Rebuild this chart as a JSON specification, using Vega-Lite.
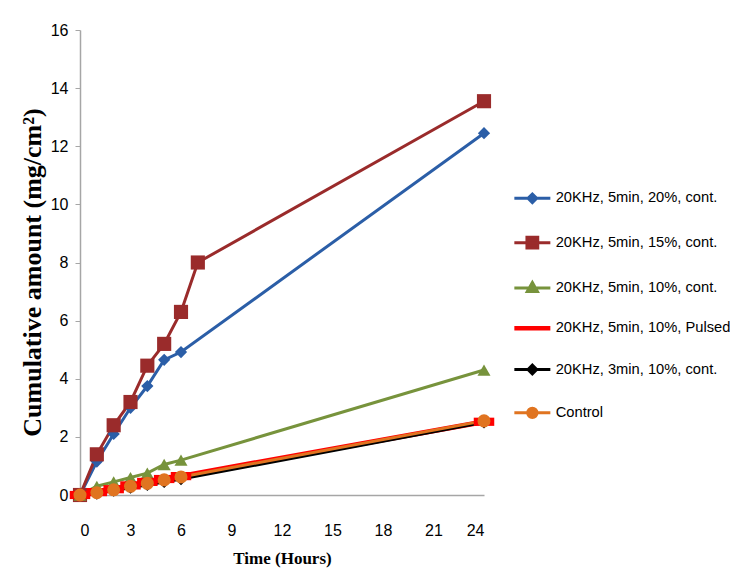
{
  "$schema": "https://vega.github.io/schema/vega-lite/v6.json",
  "autosize": "none",
  "width": 404,
  "height": 465,
  "padding": {"left": 80, "top": 30, "right": 246, "bottom": 82},
  "background": "white",
  "config": {"view": {"stroke": null}},
  "data": {"values": [
    {"series": "20KHz, 5min, 20%, cont.", "t": 0, "v": 0},
    {"series": "20KHz, 5min, 20%, cont.", "t": 1, "v": 1.15},
    {"series": "20KHz, 5min, 20%, cont.", "t": 2, "v": 2.1},
    {"series": "20KHz, 5min, 20%, cont.", "t": 3, "v": 3.0},
    {"series": "20KHz, 5min, 20%, cont.", "t": 4, "v": 3.75},
    {"series": "20KHz, 5min, 20%, cont.", "t": 5, "v": 4.65},
    {"series": "20KHz, 5min, 20%, cont.", "t": 6, "v": 4.92},
    {"series": "20KHz, 5min, 20%, cont.", "t": 24, "v": 12.45},
    {"series": "20KHz, 5min, 15%, cont.", "t": 0, "v": 0},
    {"series": "20KHz, 5min, 15%, cont.", "t": 1, "v": 1.4},
    {"series": "20KHz, 5min, 15%, cont.", "t": 2, "v": 2.4},
    {"series": "20KHz, 5min, 15%, cont.", "t": 3, "v": 3.2},
    {"series": "20KHz, 5min, 15%, cont.", "t": 4, "v": 4.45},
    {"series": "20KHz, 5min, 15%, cont.", "t": 5, "v": 5.2},
    {"series": "20KHz, 5min, 15%, cont.", "t": 6, "v": 6.3},
    {"series": "20KHz, 5min, 15%, cont.", "t": 7, "v": 8.0},
    {"series": "20KHz, 5min, 15%, cont.", "t": 24, "v": 13.55},
    {"series": "20KHz, 5min, 10%, cont.", "t": 0, "v": 0},
    {"series": "20KHz, 5min, 10%, cont.", "t": 1, "v": 0.3},
    {"series": "20KHz, 5min, 10%, cont.", "t": 2, "v": 0.45},
    {"series": "20KHz, 5min, 10%, cont.", "t": 3, "v": 0.6},
    {"series": "20KHz, 5min, 10%, cont.", "t": 4, "v": 0.75},
    {"series": "20KHz, 5min, 10%, cont.", "t": 5, "v": 1.05},
    {"series": "20KHz, 5min, 10%, cont.", "t": 6, "v": 1.2},
    {"series": "20KHz, 5min, 10%, cont.", "t": 24, "v": 4.3},
    {"series": "20KHz, 5min, 10%, Pulsed", "t": 0, "v": 0},
    {"series": "20KHz, 5min, 10%, Pulsed", "t": 1, "v": 0.1},
    {"series": "20KHz, 5min, 10%, Pulsed", "t": 2, "v": 0.2},
    {"series": "20KHz, 5min, 10%, Pulsed", "t": 3, "v": 0.33},
    {"series": "20KHz, 5min, 10%, Pulsed", "t": 4, "v": 0.45},
    {"series": "20KHz, 5min, 10%, Pulsed", "t": 5, "v": 0.55},
    {"series": "20KHz, 5min, 10%, Pulsed", "t": 6, "v": 0.65},
    {"series": "20KHz, 5min, 10%, Pulsed", "t": 24, "v": 2.52},
    {"series": "20KHz, 3min, 10%, cont.", "t": 0, "v": 0},
    {"series": "20KHz, 3min, 10%, cont.", "t": 1, "v": 0.05},
    {"series": "20KHz, 3min, 10%, cont.", "t": 2, "v": 0.15},
    {"series": "20KHz, 3min, 10%, cont.", "t": 3, "v": 0.25},
    {"series": "20KHz, 3min, 10%, cont.", "t": 4, "v": 0.35},
    {"series": "20KHz, 3min, 10%, cont.", "t": 5, "v": 0.45},
    {"series": "20KHz, 3min, 10%, cont.", "t": 6, "v": 0.55},
    {"series": "20KHz, 3min, 10%, cont.", "t": 24, "v": 2.5},
    {"series": "Control", "t": 0, "v": 0},
    {"series": "Control", "t": 1, "v": 0.08},
    {"series": "Control", "t": 2, "v": 0.18},
    {"series": "Control", "t": 3, "v": 0.3},
    {"series": "Control", "t": 4, "v": 0.4},
    {"series": "Control", "t": 5, "v": 0.52},
    {"series": "Control", "t": 6, "v": 0.62},
    {"series": "Control", "t": 24, "v": 2.55}
  ]},
  "encoding": {
    "x": {
      "field": "t", "type": "quantitative",
      "scale": {"domain": [0, 24], "nice": false},
      "axis": {
        "title": "Time (Hours)", "values": [0, 3, 6, 9, 12, 15, 18, 21, 24],
        "grid": false, "ticks": false, "domainColor": "#A6A6A6", "domainWidth": 1.5,
        "labelFont": "Liberation Sans", "labelFontSize": 16, "labelColor": "#000000", "labelPadding": 27,
        "titleFont": "Liberation Serif", "titleFontSize": 17, "titleFontWeight": "bold", "titleColor": "#000000", "titlePadding": 12
      }
    },
    "y": {
      "field": "v", "type": "quantitative",
      "scale": {"domain": [0, 16], "nice": false},
      "axis": {
        "title": "Cumulative amount (mg/cm²)", "values": [0, 2, 4, 6, 8, 10, 12, 14, 16],
        "grid": false, "tickSize": 5, "tickColor": "#A6A6A6", "domainColor": "#A6A6A6", "domainWidth": 1.5,
        "labelFont": "Liberation Sans", "labelFontSize": 16, "labelColor": "#000000", "labelPadding": 7,
        "titleFont": "Liberation Serif", "titleFontSize": 26, "titleFontWeight": "bold", "titleColor": "#000000",
        "titleX": -48, "titleY": 242, "titleBaseline": "middle", "titleAngle": -90
      }
    }
  },
  "layer": [
    {
      "mark": {"type": "line"},
      "encoding": {
        "stroke": {
          "field": "series", "type": "nominal",
          "sort": ["20KHz, 5min, 20%, cont.", "20KHz, 5min, 15%, cont.", "20KHz, 5min, 10%, cont.", "20KHz, 5min, 10%, Pulsed", "20KHz, 3min, 10%, cont.", "Control"],
          "scale": {
            "range": ["#2B5EA7", "#9A2B2B", "#77933C", "#FF0000", "#000000", "#E07420"]
          },
          "legend": {
            "title": null, "orient": "none", "legendX": 445, "legendY": 161,
            "symbolType": "stroke", "symbolSize": 1296, "symbolStrokeWidth": 3,
            "labelFont": "Liberation Sans", "labelFontSize": 14.7, "labelColor": "#000000", "labelLimit": 300,
            "labelOffset": 16, "rowPadding": 21.3, "padding": 0, "offset": 0,
            "encode": {
              "symbols": {
                "update": {
                  "shape": {"signal": "datum.value === '20KHz, 5min, 15%, cont.' ? 'M-1,0L1,0M-0.3,-0.3L0.3,-0.3L0.3,0.3L-0.3,0.3Z' : datum.value === '20KHz, 5min, 10%, cont.' ? 'M-1,0L1,0M0,-0.3L0.28,0.2L-0.28,0.2Z' : datum.value === '20KHz, 5min, 10%, Pulsed' ? 'M-1,0L1,0' : datum.value === 'Control' ? 'M-1,0L1,0M0.26,0A0.26,0.26 0 1 1 -0.26,0A0.26,0.26 0 1 1 0.26,0Z' : 'M-1,0L1,0M-0.24,0L0,-0.24L0.24,0L0,0.24Z'"},
                  "fill": {"signal": "datum.value === '20KHz, 5min, 20%, cont.' ? '#2B5EA7' : datum.value === '20KHz, 5min, 15%, cont.' ? '#9A2B2B' : datum.value === '20KHz, 5min, 10%, cont.' ? '#77933C' : datum.value === '20KHz, 5min, 10%, Pulsed' ? '#FF0000' : datum.value === 'Control' ? '#E07420' : '#000000'"},
                  "strokeWidth": {"signal": "datum.value === '20KHz, 5min, 10%, Pulsed' ? 4.5 : 3"}
                }
              }
            }
          }
        },
        "strokeWidth": {
          "field": "series", "type": "nominal",
          "scale": {
            "type": "ordinal",
            "domain": ["20KHz, 5min, 20%, cont.", "20KHz, 5min, 15%, cont.", "20KHz, 5min, 10%, cont.", "20KHz, 5min, 10%, Pulsed", "20KHz, 3min, 10%, cont.", "Control"],
            "range": [3, 3, 3, 5, 3, 3]
          },
          "legend": null
        }
      }
    },
    {
      "mark": {"type": "point", "filled": true, "opacity": 1},
      "encoding": {
        "fill": {
          "field": "series", "type": "nominal",
          "scale": {
            "domain": ["20KHz, 5min, 20%, cont.", "20KHz, 5min, 15%, cont.", "20KHz, 5min, 10%, cont.", "20KHz, 5min, 10%, Pulsed", "20KHz, 3min, 10%, cont.", "Control"],
            "range": ["#2B5EA7", "#9A2B2B", "#77933C", "#FF0000", "#000000", "#E07420"]
          },
          "legend": null
        },
        "shape": {
          "field": "series", "type": "nominal",
          "scale": {
            "domain": ["20KHz, 5min, 20%, cont.", "20KHz, 5min, 15%, cont.", "20KHz, 5min, 10%, cont.", "20KHz, 5min, 10%, Pulsed", "20KHz, 3min, 10%, cont.", "Control"],
            "range": ["diamond", "square", "triangle-up", "M-1,-0.4L1,-0.4L1,0.4L-1,0.4Z", "diamond", "circle"]
          },
          "legend": null
        },
        "size": {
          "field": "series", "type": "nominal",
          "scale": {
            "type": "ordinal",
            "domain": ["20KHz, 5min, 20%, cont.", "20KHz, 5min, 15%, cont.", "20KHz, 5min, 10%, cont.", "20KHz, 5min, 10%, Pulsed", "20KHz, 3min, 10%, cont.", "Control"],
            "range": [150, 200, 170, 420, 150, 170]
          },
          "legend": null
        }
      }
    }
  ]
}
